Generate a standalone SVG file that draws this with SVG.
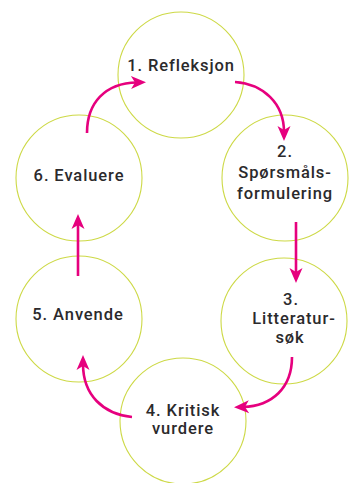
<svg xmlns="http://www.w3.org/2000/svg" width="353" height="483" viewBox="0 0 353 483">
<style>
.c{fill:none;stroke:#cdd946;stroke-width:1.1}
.t{font-family:Roboto,"Liberation Sans",sans-serif;font-weight:500;font-size:16.5px;fill:#2b2a2c;text-anchor:middle;letter-spacing:0.9px}
.a{fill:none;stroke:#e6007e;stroke-width:2.6;marker-end:url(#ah)}
</style>
<defs>
<marker id="ah" markerUnits="userSpaceOnUse" markerWidth="20" markerHeight="20" viewBox="-2 -8 20 16" refX="6" refY="0" orient="auto">
<path d="M0,-6.5 L15,0 L0,6.5 L4,0 z" fill="#e6007e"/>
</marker>
</defs>
<rect width="353" height="483" fill="#fff"/>
<g id="n1"><circle class="c" cx="181" cy="75" r="63"/><text class="t" x="181" y="71">1. Refleksjon</text></g>
<g id="n2"><circle class="c" cx="285" cy="178" r="63"/><text class="t" x="285" y="157">2.</text><text class="t" x="285" y="178">Spørsmåls-</text><text class="t" x="285" y="199">formulering</text></g>
<g id="n3"><circle class="c" cx="284" cy="321" r="63"/><text class="t" x="291" y="305">3.</text><text class="t" x="294" y="324">Litteratur-</text><text class="t" x="290" y="343">søk</text></g>
<g id="n4"><circle class="c" cx="183" cy="421" r="63"/><text class="t" x="183" y="416">4. Kritisk</text><text class="t" x="183" y="434">vurdere</text></g>
<g id="n5"><circle class="c" cx="79" cy="319" r="63"/><text class="t" x="78" y="320">5. Anvende</text></g>
<g id="n6"><circle class="c" cx="79" cy="178" r="63"/><text class="t" x="79" y="181">6. Evaluere</text></g>
<g id="connectors">
<path class="a" d="M87,133 C87,103 105,83 137,82.5"/>
<path class="a" d="M235,82 C263,84 284,103 284,132"/>
<path class="a" d="M296,222 L296,274"/>
<path class="a" d="M292,357 C292,388 272,406 243,407"/>
<path class="a" d="M132,417 C103,414 83,395 83,364"/>
<path class="a" d="M78,276 L78,223"/>
</g>
</svg>
